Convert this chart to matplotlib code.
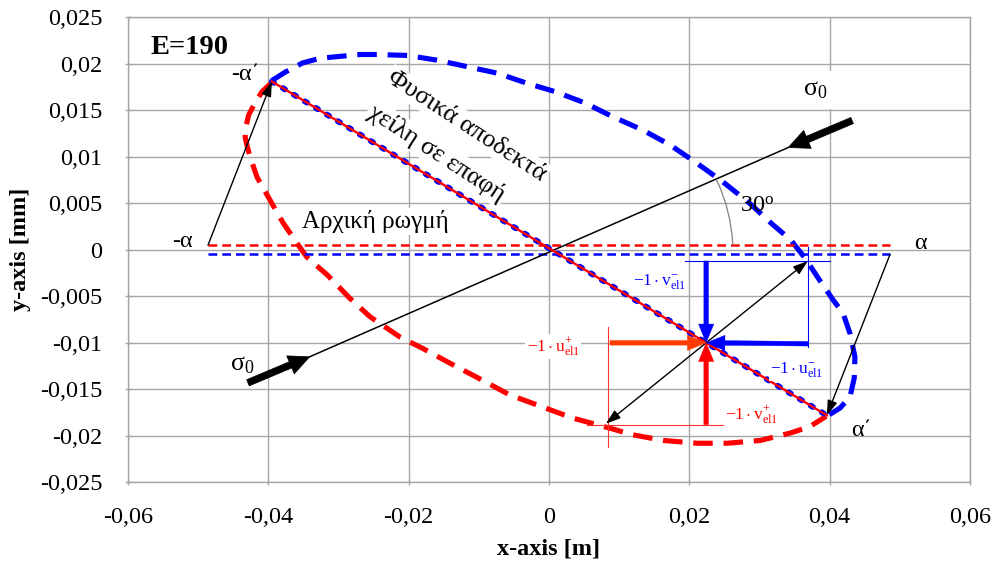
import matplotlib
matplotlib.use("Agg")
import matplotlib.pyplot as plt

plt.rcParams['font.family'] = ['Liberation Serif', 'DejaVu Serif']
plt.rcParams['mathtext.fontset'] = 'custom'
plt.rcParams['mathtext.rm'] = 'Liberation Serif'
plt.rcParams['mathtext.it'] = 'Liberation Serif:italic'
plt.rcParams['mathtext.bf'] = 'Liberation Serif:bold'

# ---------------- data ----------------
x_ticks = [-0.06, -0.04, -0.02, 0.0, 0.02, 0.04, 0.06]
x_tick_labels = ['-0,06', '-0,04', '-0,02', '0', '0,02', '0,04', '0,06']
y_ticks = [-0.025, -0.02, -0.015, -0.01, -0.005, 0.0, 0.005, 0.01, 0.015, 0.02, 0.025]
y_tick_labels = ['-0,025', '-0,02', '-0,015', '-0,01', '-0,005', '0',
                 '0,005', '0,01', '0,015', '0,02', '0,025']

# upper lip of the deformed crack (blue dashed)
upper_x = [-0.0395, -0.0376, -0.0351, -0.0326, -0.0298, -0.0269, -0.0245, -0.0202,
           -0.0160, -0.0117, -0.0074, -0.0031, 0.0009, 0.0051, 0.0091, 0.0133,
           0.0172, 0.0211, 0.0248, 0.0286, 0.0319, 0.0344, 0.0365, 0.0386,
           0.0405, 0.0419, 0.0429, 0.0436, 0.0435, 0.0429, 0.0415, 0.0398]
upper_y = [0.0182, 0.0191, 0.0201, 0.0206, 0.0208, 0.0210, 0.0210, 0.0209,
           0.0204, 0.0197, 0.0190, 0.0179, 0.0170, 0.0158, 0.0143, 0.0129,
           0.0113, 0.0093, 0.0073, 0.0050, 0.0027, 0.0011, -0.0009, -0.0033,
           -0.0054, -0.0068, -0.0090, -0.0115, -0.0138, -0.0158, -0.0170, -0.0178]

# lower lip of the deformed crack (red dashed)
lower_x = [-0.0395, -0.0409, -0.0419, -0.0428, -0.0432, -0.0433, -0.0430, -0.0426,
           -0.0416, -0.0398, -0.0379, -0.0359, -0.0345, -0.0316, -0.0284, -0.0255,
           -0.0212, -0.0180, -0.0141, -0.0103, -0.0056, -0.0009, 0.0034, 0.0083,
           0.0120, 0.0163, 0.0211, 0.0254, 0.0301, 0.0344, 0.0372, 0.0395]
lower_y = [0.0180, 0.0170, 0.0158, 0.0145, 0.0132, 0.0121, 0.0111, 0.0100,
           0.0078, 0.0054, 0.0029, 0.0007, -0.0008, -0.0027, -0.0052, -0.0072,
           -0.0094, -0.0106, -0.0122, -0.0137, -0.0156, -0.0169, -0.0181, -0.0191,
           -0.0199, -0.0205, -0.0208, -0.0208, -0.0205, -0.0197, -0.0190, -0.0179]

# initial crack
crack_x = [-0.0486, 0.0486]
crack_upper_y = [0.0005, 0.0005]
crack_lower_y = [-0.0005, -0.0005]

# contact line (physically acceptable lips in contact)
contact_x = [-0.0395, 0.0396]
contact_y = [0.0181, -0.0178]

# sigma_0 loading line
sigma_line_x = [-0.0341, 0.0341]
sigma_line_y = [-0.0115, 0.0110]
sigma_tail_x = [-0.0429, 0.0432]
sigma_tail_y = [-0.0143, 0.0139]

# vector construction point
P = (0.0224, -0.0100)
black_tips_x = [0.0369, 0.0081]
black_tips_y = [-0.0012, -0.0187]
blue_ref_h_x = [0.0194, 0.0400]
blue_ref_h_y = [-0.0012, -0.0012]
blue_ref_v_x = [0.0369, 0.0369]
blue_ref_v_y = [0.0003, -0.0104]
red_ref_v_x = [0.0084, 0.0084]
red_ref_v_y = [-0.0083, -0.0212]
red_ref_h_x = [0.0054, 0.0251]
red_ref_h_y = [-0.0188, -0.0188]
blue_down_start = (0.0224, -0.0012)
blue_left_start = (0.0369, -0.0101)
red_right_start = (0.0087, -0.0100)
red_up_start = (0.0224, -0.0188)

angle_arc_from = (0.0262, 0.0005)
angle_arc_to = (0.0239, 0.0075)

# ---------------- figure ----------------
fig = plt.figure(figsize=(9.96, 5.62), dpi=100)
ax = fig.add_axes([0.1285, 0.1418, 0.8454, 0.8274])
ax.set_xlim(-0.06, 0.06)
ax.set_ylim(-0.025, 0.025)
ax.set_xticks(x_ticks)
ax.set_xticklabels(x_tick_labels)
ax.set_yticks(y_ticks)
ax.set_yticklabels(y_tick_labels)
ax.tick_params(labelsize=17.5, colors='black', length=5, direction='inout',
               width=1, color='#a6a6a6')
ax.tick_params(axis='x', pad=15)
ax.tick_params(axis='y', pad=16)
ax.grid(True, color='#a6a6a6', lw=1)
ax.set_axisbelow(True)
for s in ax.spines.values():
    s.set_color('#a6a6a6')
    s.set_linewidth(1)

ax.set_xlabel('x-axis [m]', fontsize=17.5, fontweight='bold', labelpad=8)
ax.set_ylabel('y-axis [mm]', fontsize=17.5, fontweight='bold', labelpad=6)

# crack lips
ax.plot(upper_x, upper_y, color='#0000ff', lw=3.7, ls=(0, (3.8, 2.1)), zorder=3)
ax.plot(lower_x, lower_y, color='#ff0000', lw=3.7, ls=(0, (3.8, 2.1)), zorder=3)

# initial crack
ax.plot(crack_x, crack_upper_y, color='#ff0000', lw=1.8, ls=(0, (3.5, 2.0)), zorder=3)
ax.plot(crack_x, crack_lower_y, color='#0000ff', lw=1.8, ls=(0, (3.5, 2.0)), zorder=3)

# contact line
ax.plot(contact_x, contact_y, color='#0000ff', lw=4.2, ls=(0, (0.45, 1.75)),
        dash_capstyle='round', zorder=3)
ax.plot(contact_x, contact_y, color='#ff0000', lw=1.7, zorder=4)

# sigma_0 line and arrows
ax.plot(sigma_line_x, sigma_line_y, color='black', lw=1.1, zorder=3)
thick = dict(arrowstyle='simple,head_length=1.5,head_width=1.4,tail_width=0.48',
             color='black', lw=0.5, shrinkA=0, shrinkB=0, mutation_scale=10)
ax.annotate('', xy=(sigma_line_x[0], sigma_line_y[0]),
            xytext=(sigma_tail_x[0], sigma_tail_y[0]), arrowprops=thick, zorder=5)
ax.annotate('', xy=(sigma_line_x[1], sigma_line_y[1]),
            xytext=(sigma_tail_x[1], sigma_tail_y[1]), arrowprops=thick, zorder=5)

thin = dict(arrowstyle='-|>,head_length=0.9,head_width=0.3', color='black', lw=1.0,
            shrinkA=0, shrinkB=0, mutation_scale=10)
# -alpha -> -alpha'
ax.annotate('', xy=(contact_x[0], contact_y[0]), xytext=(crack_x[0], crack_upper_y[0]),
            arrowprops=thin, zorder=5)
ax.annotate('', xy=(contact_x[1], contact_y[1]), xytext=(crack_x[1], crack_lower_y[1]),
            arrowprops=thin, zorder=5)

# vector construction
for tx, ty in zip(black_tips_x, black_tips_y):
    ax.annotate('', xy=(tx, ty), xytext=P, arrowprops=thin, zorder=6)
ax.plot(blue_ref_h_x, blue_ref_h_y, color='#0000ff', lw=0.8, zorder=3)
ax.plot(blue_ref_v_x, blue_ref_v_y, color='#0000ff', lw=0.8, zorder=3)
ax.plot(red_ref_v_x, red_ref_v_y, color='#ff3030', lw=0.8, zorder=3)
ax.plot(red_ref_h_x, red_ref_h_y, color='#ff3030', lw=0.8, zorder=3)

def colored(c):
    return dict(arrowstyle='simple,head_length=1.35,head_width=1.1,tail_width=0.33',
                color=c, lw=0.3, shrinkA=0, shrinkB=0, mutation_scale=10)

ax.annotate('', xy=P, xytext=blue_down_start, arrowprops=colored('#0000ff'), zorder=6)
ax.annotate('', xy=P, xytext=blue_left_start, arrowprops=colored('#0000ff'), zorder=6)
ax.annotate('', xy=P, xytext=red_right_start, arrowprops=colored('#ff3c00'), zorder=6)
ax.annotate('', xy=P, xytext=red_up_start, arrowprops=colored('#ff0000'), zorder=6)

# angle arc
ax.annotate('', xy=angle_arc_to, xytext=angle_arc_from,
            arrowprops=dict(arrowstyle='-', color='#808080', lw=0.9,
                            connectionstyle='arc3,rad=0.1', shrinkA=0, shrinkB=0),
            zorder=3)

# ---------------- texts ----------------
wbox = dict(facecolor='white', edgecolor='none', pad=1.5)
ax.text(-0.0512, 0.0218, 'E=190', fontsize=20.5, fontweight='bold',
        ha='center', va='center', zorder=6)
ax.text(-0.0523, 0.0009, '-α', fontsize=17.5, ha='center', va='center', zorder=6)
ax.text(0.0530, 0.0007, 'α', fontsize=17.5, ha='center', va='center', zorder=6)
ax.text(-0.0432, 0.0188, '-α΄', fontsize=17.5, ha='center', va='center', zorder=6)
ax.text(0.0445, -0.0194, 'α΄', fontsize=17.5, ha='center', va='center', zorder=6)
ax.text(-0.0437, -0.0124, 'σ$_0$', fontsize=18.5, ha='center', va='center',
        bbox=dict(facecolor='white', edgecolor='none', pad=6), zorder=2)
ax.text(0.0379, 0.0172, 'σ$_0$', fontsize=18.5, ha='center', va='center',
        bbox=dict(facecolor='white', edgecolor='none', pad=6), zorder=2)
ax.text(0.0297, 0.0047, '30$^{\\mathrm{o}}$', fontsize=17.5, ha='center', va='center',
        zorder=6)
ax.text(-0.0248, 0.0030, 'Αρχική ρωγμή', fontsize=18, ha='center', va='center',
        bbox=wbox, zorder=2)
ax.text(-0.0117, 0.0133, 'Φυσικά αποδεκτά', fontsize=18.5, ha='center', va='center',
        rotation=-33, rotation_mode='anchor', bbox=wbox, zorder=2)
ax.text(-0.0160, 0.0104, 'χείλη σε επαφή', fontsize=18.5, ha='center', va='center',
        rotation=-33, rotation_mode='anchor', bbox=wbox, zorder=2)

mbox = dict(facecolor='white', edgecolor='none', pad=1.0)
ax.text(0.0158, -0.0034, r'$-1\cdot\mathrm{v}_{\mathrm{el1}}^{-}$', fontsize=12.5,
        color='#0000ff', ha='center', va='center', bbox=mbox, zorder=7)
ax.text(0.0353, -0.0129, r'$-1\cdot\mathrm{u}_{\mathrm{el1}}^{-}$', fontsize=12.5,
        color='#0000ff', ha='center', va='center', bbox=mbox, zorder=7)
ax.text(0.0289, -0.0177, r'$-1\cdot\mathrm{v}_{\mathrm{el1}}^{+}$', fontsize=12.5,
        color='#ff0000', ha='center', va='center', bbox=mbox, zorder=7)
ax.text(0.0006, -0.0104, r'$-1\cdot\mathrm{u}_{\mathrm{el1}}^{+}$', fontsize=12.5,
        color='#ff0000', ha='center', va='center', bbox=mbox, zorder=7)

fig.savefig('out.png', dpi=100)
